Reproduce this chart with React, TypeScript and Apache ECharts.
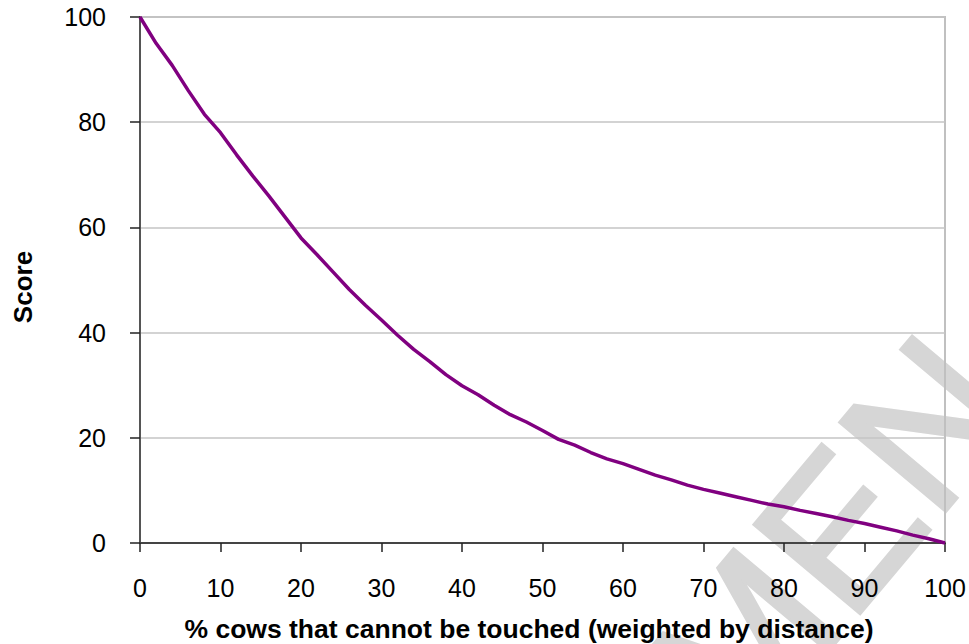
import React, { useEffect, useRef } from "react";
import * as echarts from "echarts";

// % of cows that cannot be touched (weighted by distance)
const xValues = [
  0, 2, 4, 6, 8, 10, 12, 14, 16, 18, 20, 22, 24, 26, 28, 30, 32, 34, 36, 38, 40,
  42, 44, 46, 48, 50, 52, 54, 56, 58, 60, 62, 64, 66, 68, 70, 72, 74, 76, 78, 80,
  82, 84, 86, 88, 90, 92, 94, 96, 98, 100,
];

// Resulting score
const scores = [
  100, 95.0, 90.8, 86.0, 81.5, 78.0, 73.8, 69.8, 66.0, 62.0, 58.0, 54.8, 51.5,
  48.2, 45.2, 42.4, 39.5, 36.8, 34.5, 32.0, 29.9, 28.2, 26.2, 24.4, 23.0, 21.4,
  19.7, 18.6, 17.2, 16.0, 15.1, 14.0, 12.9, 12.0, 11.0, 10.2, 9.5, 8.8, 8.1, 7.4,
  6.9, 6.2, 5.6, 5.0, 4.3, 3.7, 3.0, 2.3, 1.5, 0.8, 0,
];

const xTitle = "% cows that cannot be touched (weighted by distance)";
const yTitle = "Score";
const watermark = "SPECIMEN";

const FONT = "'Liberation Sans', Arial, sans-serif";

export default function App() {
  const ref = useRef<HTMLDivElement>(null);

  useEffect(() => {
    if (!ref.current) return;
    const chart = echarts.init(ref.current, undefined, { renderer: "svg" });

    const data = xValues.map((x, i) => [x, scores[i]]);

    chart.setOption({
      animation: false,
      backgroundColor: "#ffffff",
      grid: {
        left: 140,
        right: 24,
        top: 17,
        bottom: 101,
        show: true,
        borderColor: "#c0c0c0",
        borderWidth: 2,
        backgroundColor: "transparent",
        z: 4,
      },
      xAxis: {
        type: "value",
        z: 5,
        min: 0,
        max: 100,
        interval: 10,
        axisLine: { show: true, lineStyle: { color: "#444444", width: 2 } },
        axisTick: {
          show: true,
          inside: false,
          length: 9,
          lineStyle: { color: "#222222", width: 1.5 },
        },
        axisLabel: {
          color: "#000000",
          fontFamily: FONT,
          fontSize: 25,
          margin: 32,
        },
        splitLine: { show: false },
      },
      yAxis: {
        type: "value",
        z: 5,
        min: 0,
        max: 100,
        interval: 20,
        axisLine: { show: true, lineStyle: { color: "#555555", width: 2 } },
        axisTick: {
          show: true,
          inside: false,
          length: 10,
          lineStyle: { color: "#222222", width: 1.5 },
        },
        axisLabel: {
          color: "#000000",
          fontFamily: FONT,
          fontSize: 25,
          margin: 34,
        },
        splitLine: { show: true, lineStyle: { color: "#c4c4c4", width: 1.5 } },
      },
      graphic: [
        {
          type: "text",
          z: 0,
          silent: true,
          x: 975,
          y: 368,
          rotation: (50 * Math.PI) / 180,
          style: {
            text: watermark,
            fontFamily: FONT,
            fontSize: 200,
            align: "right",
            verticalAlign: "middle",
            fill: "#d6d6d6",
            stroke: "#d6d6d6",
            lineWidth: 4,
          },
        },
        {
          type: "text",
          z: 10,
          x: 529,
          y: 629,
          style: {
            text: xTitle,
            fontFamily: FONT,
            fontWeight: "bold",
            fontSize: 26.5,
            align: "center",
            verticalAlign: "middle",
            fill: "#000000",
          },
        },
        {
          type: "text",
          z: 10,
          x: 23,
          y: 287,
          rotation: Math.PI / 2,
          style: {
            text: yTitle,
            fontFamily: FONT,
            fontWeight: "bold",
            fontSize: 26,
            align: "center",
            verticalAlign: "middle",
            fill: "#000000",
          },
        },
      ],
      series: [
        {
          type: "line",
          data,
          z: 6,
          showSymbol: false,
          symbol: "none",
          lineStyle: { color: "#800080", width: 3.5 },
          clip: false,
        },
      ],
    });

    return () => chart.dispose();
  }, []);

  return (
    <div
      ref={ref}
      style={{ position: "absolute", left: 0, top: 0, width: 969, height: 644 }}
    />
  );
}
